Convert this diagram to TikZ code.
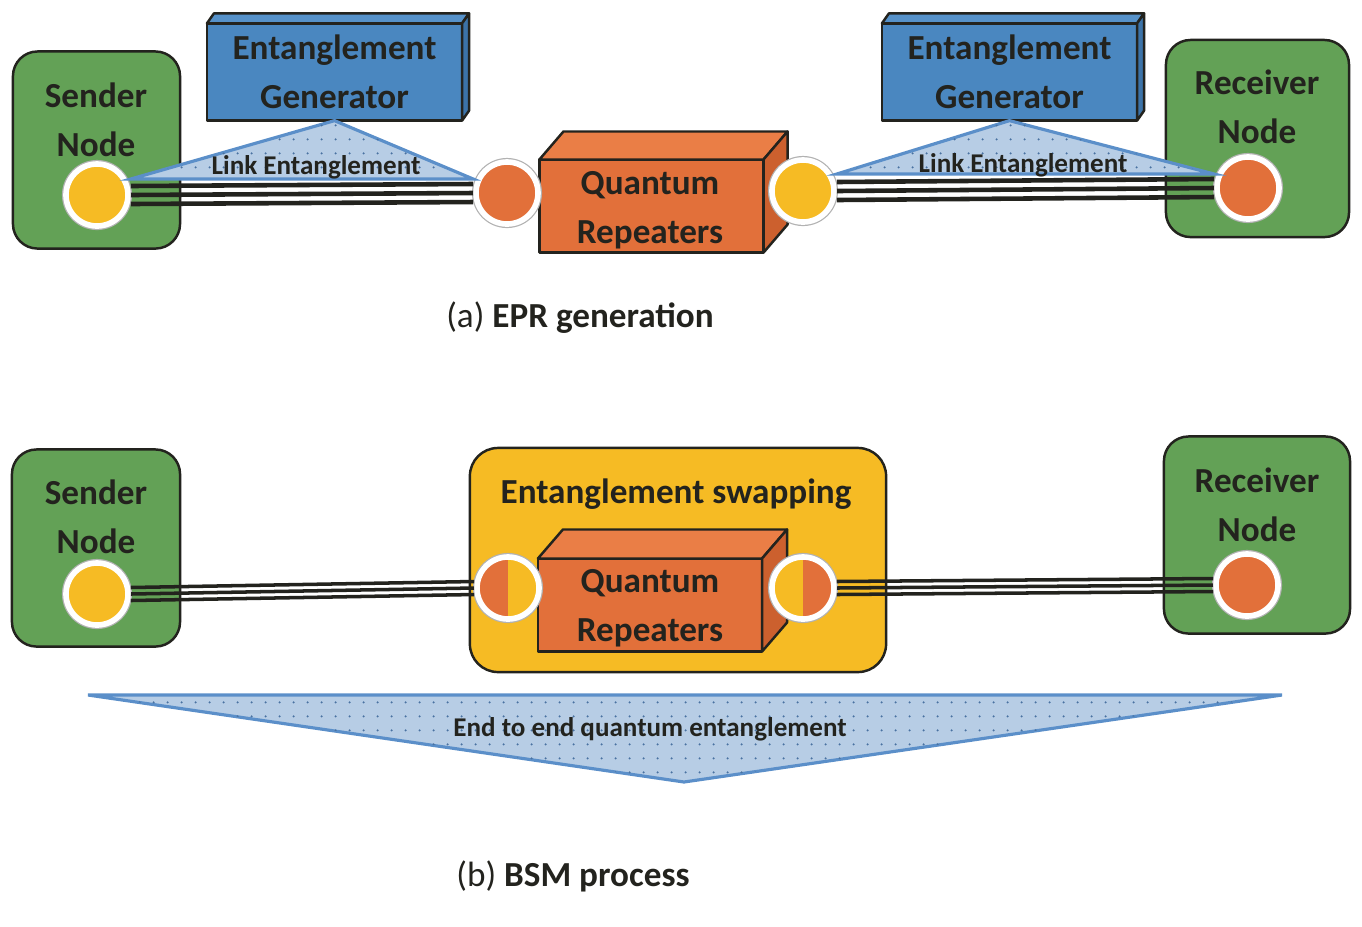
\documentclass[tikz,border=0pt]{standalone}
\usepackage{fontspec}
\setmainfont{Carlito}
\usetikzlibrary{patterns.meta}
\definecolor{nodegreen}{RGB}{99,161,86}
\definecolor{genblue}{RGB}{74,135,192}
\definecolor{genbluetop}{RGB}{86,146,202}
\definecolor{genblueside}{RGB}{60,115,168}
\definecolor{reporange}{RGB}{226,112,58}
\definecolor{reporangetop}{RGB}{234,126,70}
\definecolor{reporangeside}{RGB}{204,96,46}
\definecolor{qyellow}{RGB}{246,187,36}
\definecolor{trifill}{RGB}{183,205,229}
\definecolor{triedge}{RGB}{91,143,201}
\definecolor{inkdark}{RGB}{35,35,30}

% top and side faces of a box whose front face is node #1
\newcommand{\boxfaces}[5]{%
  \draw[boxline, fill=#4] (#1.north west) -- ++(#2,#3) -- ([shift={(#2,#3)}]#1.north east) -- (#1.north east) -- cycle;
  \draw[boxline, fill=#5] (#1.north east) -- ([shift={(#2,#3)}]#1.north east) -- ([shift={(#2,#3)}]#1.south east) -- (#1.south east) -- cycle;
}

\begin{document}
\begin{tikzpicture}[x=0.01cm, y=-0.01cm,
    boxline/.style={draw=inkdark, line width=0.7pt, line join=round},
    lbl/.style={text=inkdark, font=\fontsize{10}{13.9}\selectfont\bfseries, align=center},
    thinlbl/.style={text=inkdark, font=\fontsize{7.7}{9}\selectfont\bfseries},
    endbox/.style={boxline, fill=nodegreen, rounded corners=7pt, minimum height=1.97cm},
    genface/.style={boxline, lbl, fill=genblue, minimum width=2.55cm, minimum height=0.90cm, outer sep=0pt},
    repface/.style={boxline, fill=reporange, minimum width=2.24cm, minimum height=0.93cm, outer sep=0pt},
    qbit/.style={circle, draw=white, line width=1.6pt, minimum size=0.62cm, inner sep=0pt,
      preaction={draw=black!30, line width=2.3pt}},
    link/.style={draw=inkdark, line width=1.3pt},
    linkarea/.style={draw=triedge, line width=0.9pt, fill=trifill,
      postaction={pattern color=triedge!80!black, pattern={Dots[distance=4pt, radius=0.35pt]}}}]
    \useasboundingbox (0,0) rectangle (1362,926);

    % (a) EPR generation
    \node[endbox, minimum width=1.67cm] (sendA) at (96.5,150) {};
    \node[lbl] (sendAtxt) at (96,120) {Sender\\Node};
    \node[endbox, minimum width=1.83cm] (recvA) at (1257.5,138.5) {};
    \node[lbl] (recvAtxt) at (1257,107) {Receiver\\Node};

    \node[genface] (genA) at (334.5,72) {Entanglement\\Generator};
    \boxfaces{genA}{7}{-10}{genbluetop}{genblueside}
    \node[genface] (genB) at (1009.5,72) {Entanglement\\Generator};
    \boxfaces{genB}{7}{-10}{genbluetop}{genblueside}

    \node[repface] (repA) at (651.5,206) {};
    \boxfaces{repA}{24}{-28}{reporangetop}{reporangeside}
    \node[lbl] (repAtxt) at (650,210) {Quantum\\Repeaters};

    \node[qbit, fill=qyellow] (sbitA) at (97,195) {};
    \node[qbit, fill=reporange] (rlA) at (507,193) {};
    \node[qbit, fill=qyellow] (rrA) at (803,191) {};
    \node[qbit, fill=reporange] (qbitA) at (1248,188) {};

    \draw[linkarea] ([yshift=0.16cm]sbitA.east) -- (genA.south) -- ([yshift=0.14cm]rlA.west) -- cycle;
    \node[thinlbl] (linkA) at (316,167) {Link Entanglement};
    \draw[linkarea] ([yshift=0.17cm]rrA.east) -- (genB.south) -- ([yshift=0.14cm]qbitA.west) -- cycle;
    \node[thinlbl] (linkB) at (1023,165) {Link Entanglement};

    \draw[link] ([yshift=0.09cm]sbitA.east) -- ([yshift=0.09cm]rlA.west);
    \draw[link] (sbitA.east) -- (rlA.west);
    \draw[link] ([yshift=-0.09cm]sbitA.east) -- ([yshift=-0.09cm]rlA.west);
    \draw[link] ([yshift=0.09cm]rrA.east) -- ([yshift=0.09cm]qbitA.west);
    \draw[link] (rrA.east) -- (qbitA.west);
    \draw[link] ([yshift=-0.09cm]rrA.east) -- ([yshift=-0.09cm]qbitA.west);

    \node[lbl, font=\fontsize{10}{12}\selectfont] (capA) at (580,318) {(a) \textbf{EPR generation}};

    % (b) BSM process
    \node[endbox, minimum width=1.68cm] (sendB) at (96,548) {};
    \node[lbl] (sendBtxt) at (96,517) {Sender\\Node};
    \node[endbox, minimum width=1.86cm] (recvB) at (1257,535) {};
    \node[lbl] (recvBtxt) at (1257,505) {Receiver\\Node};

    \node[boxline, fill=qyellow, rounded corners=8pt, minimum width=4.16cm, minimum height=2.24cm] (swap) at (678,560) {};
    \node[lbl] (swaptxt) at (676,494) {Entanglement swapping};

    \node[repface] (repB) at (650,605) {};
    \boxfaces{repB}{25}{-29}{reporangetop}{reporangeside}
    \node[lbl] (repBtxt) at (650,608) {Quantum\\Repeaters};

    \node[qbit, fill=qyellow] (sbitB) at (97,594) {};
    \node[qbit, fill=qyellow, path picture={\fill[reporange] (path picture bounding box.south west) rectangle (path picture bounding box.north);}] (rlB) at (508,588) {};
    \node[qbit, fill=qyellow, path picture={\fill[reporange] (path picture bounding box.south east) rectangle (path picture bounding box.north);}] (rrB) at (803,588) {};
    \node[qbit, fill=reporange] (qbitB) at (1247,585) {};

    \draw[link, line width=1pt] ([yshift=0.065cm]sbitB.east) -- ([yshift=0.065cm]rlB.west);
    \draw[link, line width=1pt] (sbitB.east) -- (rlB.west);
    \draw[link, line width=1pt] ([yshift=-0.065cm]sbitB.east) -- ([yshift=-0.065cm]rlB.west);
    \draw[link, line width=1pt] ([yshift=0.065cm]rrB.east) -- ([yshift=0.065cm]qbitB.west);
    \draw[link, line width=1pt] (rrB.east) -- (qbitB.west);
    \draw[link, line width=1pt] ([yshift=-0.065cm]rrB.east) -- ([yshift=-0.065cm]qbitB.west);

    \draw[linkarea] (88,695) -- (1282,695) -- (684,782) -- cycle;
    \node[thinlbl] (endtxt) at (650,729) {End to end quantum entanglement};

    \node[lbl, font=\fontsize{10}{12}\selectfont] (capB) at (573,876) {(b) \textbf{BSM process}};
\end{tikzpicture}
\end{document}
